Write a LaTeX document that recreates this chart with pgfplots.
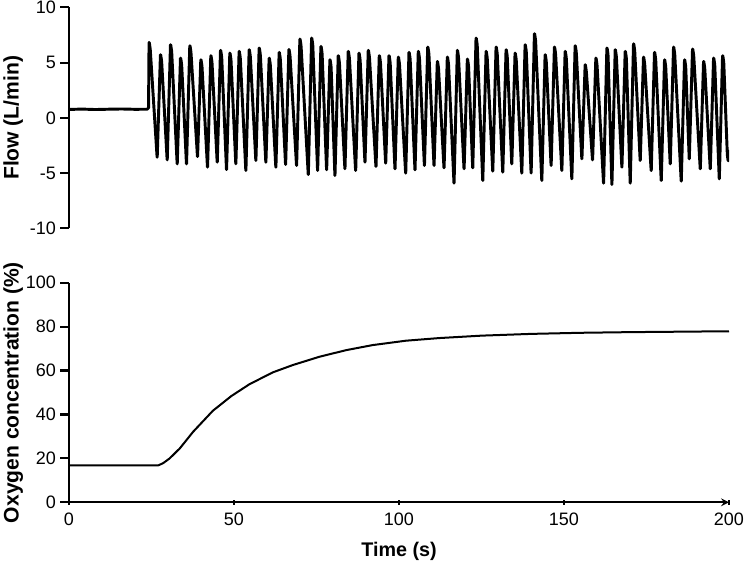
\documentclass[border=0pt]{standalone}
\usepackage{pgfplots}
\pgfplotsset{compat=1.18}
\usepackage{pgfplotstable}
\usepackage{fontspec}
\setmainfont{Liberation Sans}

% Ventilator flow trace (L/min) against time (s)
\pgfplotstableread{
t f
0.00 0.76
4.00 0.79
8.00 0.75
12.00 0.78
16.00 0.80
20.00 0.77
24.10 0.78
24.26 6.94
24.61 6.24
26.72 -3.68
27.72 5.83
28.07 5.13
29.76 -3.92
30.76 6.73
31.11 6.03
32.79 -4.28
33.79 5.52
34.14 4.82
35.61 -4.28
36.61 6.64
36.96 5.94
38.95 -3.62
39.95 5.37
40.30 4.67
41.98 -4.58
42.98 5.74
43.33 5.04
44.92 -4.13
45.92 6.22
46.27 5.52
47.74 -4.80
48.74 5.97
49.09 5.27
50.56 -4.28
51.56 6.13
51.91 5.43
53.60 -4.89
54.60 6.28
54.95 5.58
56.63 -3.98
57.63 6.43
57.98 5.73
59.66 -4.13
60.66 5.52
61.01 4.82
62.69 -4.58
63.69 6.04
64.04 5.34
65.64 -4.34
66.64 6.30
66.99 5.60
68.97 -4.43
69.97 7.24
70.32 6.54
72.52 -5.25
73.52 7.33
73.87 6.63
75.34 -4.89
76.34 6.58
76.69 5.88
78.07 -4.82
79.07 5.37
79.42 4.67
80.59 -5.34
81.59 5.74
81.94 5.04
83.62 -4.73
84.62 6.13
84.97 5.43
86.87 -4.89
87.87 5.97
88.22 5.27
89.69 -4.13
90.69 6.22
91.04 5.52
93.03 -4.52
94.03 5.74
94.38 5.04
95.97 -4.22
96.97 5.74
97.32 5.04
98.79 -4.73
99.79 5.61
100.14 4.91
102.03 -5.12
103.03 6.04
103.38 5.34
104.85 -4.82
105.85 6.13
106.20 5.43
107.71 -4.43
108.71 6.52
109.06 5.82
110.62 -4.43
111.62 5.22
111.97 4.52
113.65 -4.64
114.65 5.61
115.00 4.91
116.68 -6.03
117.68 6.22
118.03 5.52
119.72 -4.73
120.72 5.43
121.07 4.73
122.35 -4.64
123.35 7.33
123.70 6.63
125.39 -5.79
126.39 6.13
126.74 5.43
128.42 -4.94
129.42 6.52
129.77 5.82
131.45 -5.03
132.45 6.28
132.80 5.58
134.18 -4.28
135.18 5.97
135.53 5.27
137.22 -5.12
138.22 6.73
138.57 6.03
140.04 -5.12
141.04 7.73
141.39 7.03
143.28 -5.79
144.28 5.83
144.63 5.13
146.10 -4.43
147.10 6.52
147.45 5.82
149.35 -4.89
150.35 6.13
150.70 5.43
152.38 -5.64
153.38 6.64
153.73 5.94
155.42 -3.83
156.42 4.92
156.77 4.22
158.66 -3.92
159.66 5.52
160.01 4.82
162.00 -6.03
163.00 6.43
163.35 5.73
164.52 -6.15
165.52 6.28
165.87 5.58
167.55 -4.58
168.55 6.13
168.90 5.43
170.07 -6.03
171.07 6.82
171.42 6.12
173.10 -3.98
174.10 5.61
174.45 4.91
176.43 -4.89
177.43 6.04
177.78 5.34
179.47 -5.79
180.47 5.37
180.82 4.67
182.20 -4.28
183.20 6.52
183.55 5.82
185.53 -5.85
186.53 5.37
186.88 4.67
187.96 -3.83
188.96 6.34
189.31 5.64
191.30 -4.73
192.30 5.22
192.65 4.52
194.33 -4.73
195.33 5.52
195.68 4.82
197.06 -5.64
198.06 5.74
198.41 5.04
199.50 -3.40
199.80 -4.00
200.00 -2.90
}\flowdata

% Measured oxygen concentration (%) against time (s)
\pgfplotstableread{
t o
0.0 16.8
27.0 16.8
28.5 17.8
30.5 20.0
33.6 24.6
37.6 32.1
43.6 41.7
49.2 48.4
54.7 53.8
61.8 59.2
67.8 62.5
75.9 66.3
84.0 69.3
92.0 71.6
102.1 73.6
112.2 74.8
125.0 75.9
140.0 76.7
155.0 77.2
170.0 77.5
185.0 77.7
200.0 77.9
}\oxydata

\pgfplotsset{
  panel/.style={
    scale only axis,
    width=495pt,
    xmin=0, xmax=200,
    axis y line=left,
    axis line style={line width=1.6pt, -, black},
    tick align=outside,
    every tick/.style={line width=1.6pt, black},
    ytick style={/pgfplots/major tick length=6.5pt},
    xtick style={/pgfplots/major tick length=3.5pt},
    /pgf/number format/assume math mode=true,
    tick label style={font=\fontsize{13.5}{16}\selectfont},
    yticklabel style={xshift=-2pt},
    xticklabel style={yshift=-2pt},
    label style={font=\fontsize{15.8}{18}\selectfont\bfseries},
    ylabel style={at={(axis description cs:-0.1,0.5)}, anchor=north, inner sep=0pt},
  }
}

\begin{document}
\begin{tikzpicture}
\useasboundingbox (0,0) rectangle (558pt,422.25pt);

% upper panel: flow
\begin{axis}[panel,
  at={(51.75pt,251pt)}, anchor=south west,
  height=165.75pt,
  ymin=-10, ymax=10,
  ytick={-10,-5,0,5,10},
  axis x line=none,
  ylabel={Flow (L/min)},
]
\addplot[black, line width=2.2pt, line join=round, rounded corners=1pt] table[x=t, y=f] {\flowdata};
\end{axis}

% lower panel: oxygen concentration
\begin{axis}[panel,
  at={(51.75pt,45.5pt)}, anchor=south west,
  height=164.7pt,
  ymin=0, ymax=100,
  ytick={0,20,40,60,80,100},
  xtick={0,50,100,150,200},
  axis x line=bottom,
  xlabel={Time (s)},
  xlabel style={at={(axis description cs:0.5,-0.18)}, anchor=north, inner sep=0pt, font=\fontsize{14.8}{17}\selectfont\bfseries},
  ylabel={Oxygen concentration (\%)},
]
\addplot[black, line width=1.5pt, line join=round] table[x=t, y=o] {\oxydata};
\end{axis}
\end{tikzpicture}
\end{document}
